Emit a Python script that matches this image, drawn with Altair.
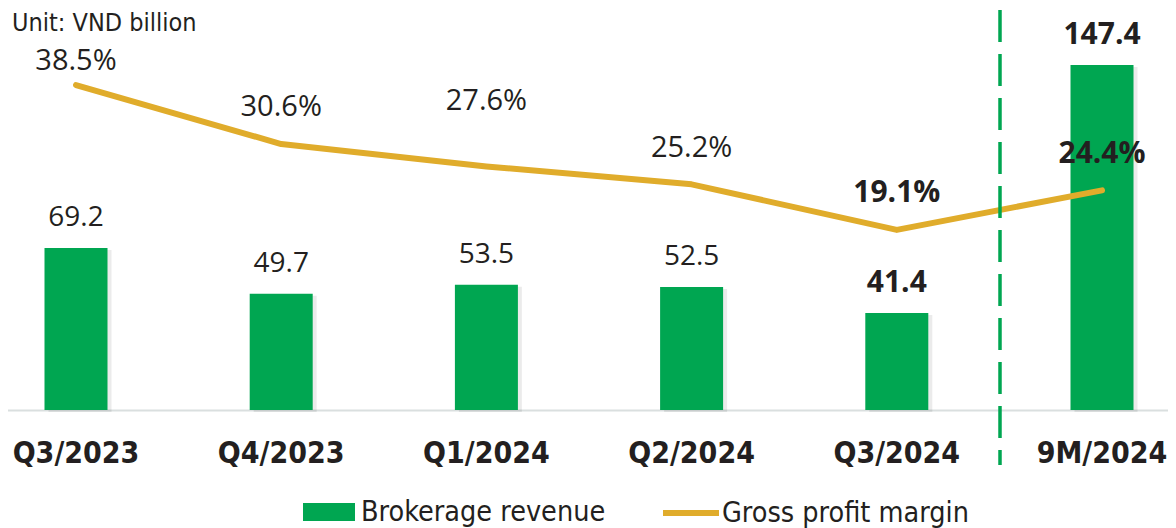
import altair as alt
import pandas as pd

# ---- data ----
categories = ["Q3/2023", "Q4/2023", "Q1/2024", "Q2/2024", "Q3/2024", "9M/2024"]
revenue = [69.2, 49.7, 53.5, 52.5, 41.4, 147.4]
margin = [38.5, 30.6, 27.6, 25.2, 19.1, 24.4]
bold = [False, False, False, False, True, True]
series_names = ["Brokerage revenue", "Gross profit margin"]
unit_text = "Unit: VND billion"

# ---- style ----
GREEN = "#00A651"
GOLD = "#E0AC2B"
TEXT = "#231F20"
COND = "DejaVu Sans Condensed"
LABEL_FONT = "Open Sans"
margin_label_dy = [-24, -37, -65, -36, -37, -36]

df = pd.DataFrame({"period": categories, "revenue": revenue, "margin": margin, "bold": bold})
df["rev_series"] = series_names[0]
df["mar_series"] = series_names[1]

xenc = alt.X(
    "period:N",
    sort=categories,
    scale=alt.Scale(domain=categories, range=[-34.6, 1196.6], paddingInner=0, paddingOuter=0),
    axis=alt.Axis(
        title=None, labelAngle=0, labelFont=COND, labelFontWeight="bold", labelFontSize=30,
        labelColor=TEXT, labelPadding=28, ticks=False, domainColor="#DADFDF", domainWidth=2,
    ),
)
yrev = alt.Y("revenue:Q", scale=alt.Scale(domain=[0, 171.75], nice=False, zero=True), axis=None)
ymar = alt.Y("margin:Q", scale=alt.Scale(domain=[-5.007, 48.81], nice=False, zero=False), axis=None)

base = alt.Chart(df)

shadow = base.mark_bar(size=63, color="#000000", opacity=0.08, xOffset=4, yOffset=2).encode(x=xenc, y=yrev)

bars = base.mark_bar(size=63).encode(
    x=xenc,
    y=yrev,
    fill=alt.Fill(
        "rev_series:N",
        scale=alt.Scale(domain=[series_names[0]], range=[GREEN]),
        legend=alt.Legend(
            title=None, orient="none", legendX=295, legendY=478,
            symbolType="M-1,-0.346H1V0.346H-1Z", symbolSize=2704, symbolStrokeWidth=0,
            labelFont=COND, labelFontSize=28.5, labelColor=TEXT, labelOffset=6, labelLimit=400,
        ),
    ),
)

rev_lbl = base.transform_filter("!datum.bold").mark_text(
    dy=-30, font=LABEL_FONT, fontSize=28, color=TEXT, baseline="middle"
).encode(x=xenc, y=yrev, text=alt.Text("revenue:Q", format=".1f"))
rev_lbl_b = base.transform_filter("datum.bold").mark_text(
    dy=-30, font=LABEL_FONT, fontSize=30, fontWeight="bold", color=TEXT, baseline="middle"
).encode(x=xenc, y=yrev, text=alt.Text("revenue:Q", format=".1f"))

line = base.mark_line(strokeWidth=6, strokeCap="round", strokeJoin="round").encode(
    x=xenc,
    y=ymar,
    stroke=alt.Stroke(
        "mar_series:N",
        scale=alt.Scale(domain=[series_names[1]], range=[GOLD]),
        legend=alt.Legend(
            title=None, orient="none", legendX=652, legendY=474,
            symbolType="stroke", symbolSize=3136, symbolStrokeWidth=6,
            labelFont=COND, labelFontSize=28.5, labelColor=TEXT, labelOffset=0, labelLimit=400,
        ),
    ),
)

mar_layers = [
    base.transform_filter(alt.datum.period == cat)
    .transform_calculate(lbl="format(datum.margin, '.1f') + '%'")
    .mark_text(
        dy=dy, font=LABEL_FONT, fontSize=30 if b else 29,
        fontWeight="bold" if b else "normal", color=TEXT, baseline="middle",
    )
    .encode(x=xenc, y=ymar, text="lbl:N")
    for cat, dy, b in zip(categories, margin_label_dy, bold)
]

unit = alt.Chart(pd.DataFrame({"t": [unit_text]})).mark_text(
    align="left", baseline="middle", font=COND, fontSize=25, color=TEXT
).encode(x=alt.value(4), y=alt.value(14.5), text="t:N")

divider = alt.Chart(pd.DataFrame({"a": [0]})).mark_rule(
    color=GREEN, strokeWidth=3.5, strokeDash=[32, 12]
).encode(x=alt.value(992), y=alt.value(2), y2=alt.value(457))

bar_part = alt.layer(shadow, bars, rev_lbl, rev_lbl_b)
line_part = alt.layer(line, *mar_layers)

chart = (
    alt.layer(bar_part, line_part, divider, unit)
    .resolve_scale(y="independent")
    .properties(
        width=1160, height=402,
        autosize=alt.AutoSizeParams(type="none"),
        padding={"left": 0, "top": 0, "right": 0, "bottom": 118},
        background="white",
    )
    .configure_view(stroke=None)
)

chart.save("out.html", embed_options={"renderer": "svg", "actions": False})
